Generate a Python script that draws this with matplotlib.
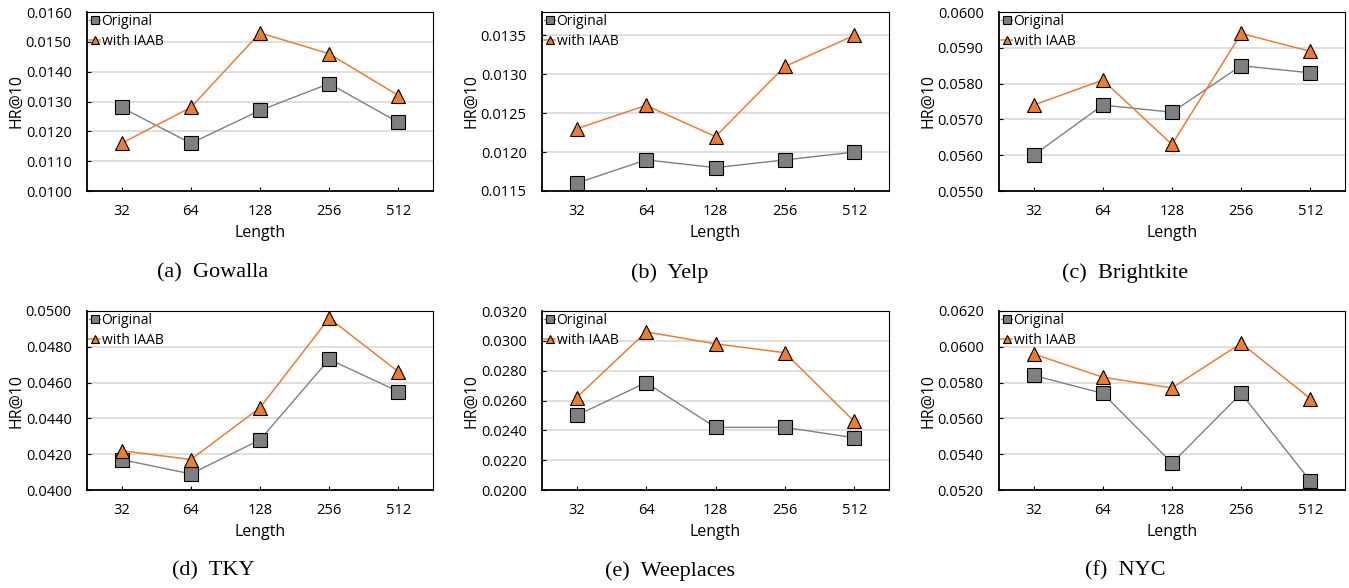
import matplotlib
matplotlib.use('Agg')
import matplotlib.pyplot as plt
import numpy as np
from matplotlib.ticker import FormatStrFormatter

plt.rcParams['font.family'] = ['Open Sans', 'DejaVu Sans']

lengths = ['32', '64', '128', '256', '512']

gowalla_orig = [0.0128, 0.0116, 0.0127, 0.0136, 0.0123]
gowalla_iaab = [0.0116, 0.0128, 0.0153, 0.0146, 0.0132]
yelp_orig = [0.0116, 0.0119, 0.0118, 0.0119, 0.0120]
yelp_iaab = [0.0123, 0.0126, 0.0122, 0.0131, 0.0135]
bright_orig = [0.0560, 0.0574, 0.0572, 0.0585, 0.0583]
bright_iaab = [0.0574, 0.0581, 0.0563, 0.0594, 0.0589]
tky_orig = [0.0417, 0.0409, 0.0428, 0.0473, 0.0455]
tky_iaab = [0.0422, 0.0417, 0.0446, 0.0496, 0.0466]
wee_orig = [0.0250, 0.0272, 0.0242, 0.0242, 0.0235]
wee_iaab = [0.0262, 0.0306, 0.0298, 0.0292, 0.0246]
nyc_orig = [0.0584, 0.0574, 0.0535, 0.0574, 0.0525]
nyc_iaab = [0.0596, 0.0583, 0.0577, 0.0602, 0.0571]

captions = ['(a)  Gowalla', '(b)  Yelp', '(c)  Brightkite',
            '(d)  TKY', '(e)  Weeplaces', '(f)  NYC']
yranges = [(0.0100, 0.0160, 0.0010), (0.0115, 0.0138, 0.0005),
           (0.0550, 0.0600, 0.0010), (0.0400, 0.0500, 0.0020),
           (0.0200, 0.0320, 0.0020), (0.0520, 0.0620, 0.0020)]
series = [(gowalla_orig, gowalla_iaab), (yelp_orig, yelp_iaab),
          (bright_orig, bright_iaab), (tky_orig, tky_iaab),
          (wee_orig, wee_iaab), (nyc_orig, nyc_iaab)]

W, H = 1349, 588
fig = plt.figure(figsize=(W / 100, H / 100), dpi=100)

lefts = [87, 542, 999]
widths = [346, 347, 346]
tops = [12, 311]
cap_x = [213, 670, 1125]
cap_y = [273, 571]
ax_h = 179

x = np.arange(len(lengths))
for i in range(6):
    r, c = divmod(i, 3)
    ax = fig.add_axes([lefts[c] / W, 1 - (tops[r] + ax_h) / H, widths[c] / W, ax_h / H])
    orig, iaab = series[i]
    ax.plot(x, orig, color='#808080', lw=1.0, marker='s', ms=9.5,
            mfc='#7f7f7f', mec='black', mew=0.8, label='Original', zorder=3)
    ax.plot(x, iaab, color='#ED7D31', lw=1.1, marker='^', ms=10,
            mfc='#ED7D31', mec='black', mew=0.8, label='with IAAB', zorder=4)
    lo, hi, step = yranges[i]
    ax.set_ylim(lo, hi)
    ax.set_yticks(np.arange(lo, hi + step * 0.01, step))
    ax.yaxis.set_major_formatter(FormatStrFormatter('%.4f'))
    ax.set_xlim(-0.5, len(lengths) - 0.5)
    ax.set_xticks(x)
    ax.set_xticklabels(lengths)
    ax.grid(axis='y', color='#d9d9d9', lw=1.2, zorder=0)
    ax.set_axisbelow(True)
    ax.tick_params(axis='both', direction='in', length=3, labelsize=10.5, color='black')
    ax.tick_params(axis='x', pad=9)
    ax.tick_params(axis='y', pad=11)
    for s in ['top', 'right']:
        ax.spines[s].set_linewidth(0.8)
    for s in ['left', 'bottom']:
        ax.spines[s].set_linewidth(1.3)
    ax.set_ylabel('HR@10', fontsize=11.5)
    ax.yaxis.set_label_coords(-0.18, 0.5)
    ax.set_xlabel('Length', fontsize=11.5)
    ax.xaxis.set_label_coords(0.5, -0.19)
    ax.legend(loc='upper left', bbox_to_anchor=(0, 1), frameon=False, fontsize=10,
              handlelength=0.8, handletextpad=0.1, borderpad=0.1, borderaxespad=0.05,
              labelspacing=0.35, markerscale=0.6)
    fig.text(cap_x[c] / W, 1 - cap_y[r] / H, captions[i], ha='center', va='center',
             fontsize=16, family=['Liberation Serif', 'DejaVu Serif'])

plt.savefig('out.png', dpi=100)
